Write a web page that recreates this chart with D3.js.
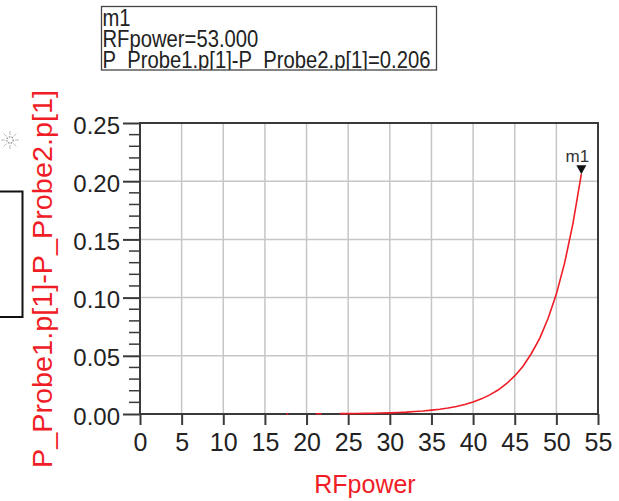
<!DOCTYPE html>
<html>
<head>
<meta charset="utf-8">
<script src="https://cdn.jsdelivr.net/npm/d3@7"></script>
<style>
  body { margin: 0; background: #fff; }
  svg { display: block; font-family: "Liberation Sans", Arial, sans-serif; }
</style>
</head>
<body>
<div id="chart"></div>
<script>
// swept RF input power (dBm) and probe power difference
const rfPower = [17.6, 17.8, null, 21.1, 21.5, 21.8, null,
  24, 25, 26, 27, 28, 29, 30, 31, 32, 33, 34, 35, 36, 37, 38, 39,
  40, 41, 42, 43, 44, 45, 46, 47, 48, 49, 50, 51, 52, 53];
const pDiff = [0.0001, 0.0001, null, 0.0002, 0.0002, 0.0002, null,
  0.0003, 0.0003, 0.0004, 0.0005, 0.0007, 0.0008, 0.0010, 0.0013, 0.0016, 0.0021, 0.0026, 0.0033, 0.0041, 0.0052, 0.0065, 0.0082,
  0.0103, 0.0130, 0.0164, 0.0206, 0.0260, 0.0327, 0.0410, 0.0520, 0.0650, 0.0820, 0.1030, 0.1300, 0.1640, 0.2060];

const xTicks = [0, 5, 10, 15, 20, 25, 30, 35, 40, 45, 50, 55];
const yTicks = [0, 0.05, 0.10, 0.15, 0.20, 0.25];
const yMinorTicks = d3.range(0, 26).map(i => i / 100);

const markerName = "m1";
const markerX = 53.0;
const markerY = 0.206;
const markerLines = ["m1", "RFpower=53.000", "P_Probe1.p[1]-P_Probe2.p[1]=0.206"];

const xLabel = "RFpower";
const yLabel = "P_Probe1.p[1]-P_Probe2.p[1]";

const width = 619, height = 501;
const plot = {left: 140, right: 598, top: 123, bottom: 414};
const red = "#f01c26";
const frame = "#3a3a3a";
const gridCol = "#c6c6c6";

const svg = d3.select("#chart").append("svg")
  .attr("width", width).attr("height", height);

const x = d3.scaleLinear().domain([0, 55]).range([plot.left, plot.right]);
const y = d3.scaleLinear().domain([0, 0.25]).range([plot.bottom, plot.top]);

// grid
svg.append("g").selectAll("line.vg")
  .data(xTicks.slice(1, -1))
  .join("line")
  .attr("x1", d => x(d)).attr("x2", d => x(d))
  .attr("y1", plot.top).attr("y2", plot.bottom)
  .attr("stroke", gridCol).attr("stroke-width", 1.5);

svg.append("g").selectAll("line.hg")
  .data(yTicks.slice(1, -1))
  .join("line")
  .attr("x1", plot.left).attr("x2", plot.right)
  .attr("y1", d => y(d)).attr("y2", d => y(d))
  .attr("stroke", gridCol).attr("stroke-width", 1.5);

// frame
svg.append("rect")
  .attr("x", plot.left).attr("y", plot.top)
  .attr("width", plot.right - plot.left).attr("height", plot.bottom - plot.top)
  .attr("fill", "none").attr("stroke", frame).attr("stroke-width", 2);

// y axis: major + minor ticks
const yAxis = svg.append("g")
  .attr("transform", `translate(${plot.left},0)`)
  .call(d3.axisLeft(y).tickValues(yTicks).tickFormat(d3.format(".2f")).tickSize(17).tickPadding(3));
yAxis.select(".domain").remove();
yAxis.selectAll(".tick line").attr("stroke", frame).attr("stroke-width", 2);
yAxis.selectAll(".tick text")
  .attr("font-size", 24).attr("fill", "#222")
  .attr("font-family", "Liberation Sans, Arial, sans-serif")
  .attr("dy", "0.42em");

svg.append("g").selectAll("line")
  .data(yMinorTicks.filter(d => Math.round(d * 100) % 5 !== 0))
  .join("line")
  .attr("x1", plot.left - 11).attr("x2", plot.left)
  .attr("y1", d => y(d)).attr("y2", d => y(d))
  .attr("stroke", frame).attr("stroke-width", 1.5);

// x axis
const xAxis = svg.append("g")
  .attr("transform", `translate(0,${plot.bottom})`)
  .call(d3.axisBottom(x).tickValues(xTicks).tickSize(11).tickPadding(8));
xAxis.select(".domain").remove();
xAxis.selectAll(".tick line").attr("stroke", frame).attr("stroke-width", 2);
xAxis.selectAll(".tick text")
  .attr("font-size", 25).attr("fill", "#222")
  .attr("font-family", "Liberation Sans, Arial, sans-serif");

// curve
const pts = rfPower.map((p, i) => ({p, v: pDiff[i]}));
const line = d3.line()
  .defined(d => d.p !== null && d.v !== null)
  .x(d => x(d.p)).y(d => y(d.v));
svg.append("path")
  .datum(pts)
  .attr("d", line)
  .attr("fill", "none").attr("stroke", red).attr("stroke-width", 1.6);

// marker
const mx = x(markerX), my = y(markerY);
svg.append("path")
  .attr("d", `M${mx - 5},${my - 9}L${mx + 5},${my - 9}L${mx},${my}Z`)
  .attr("fill", "#111");
svg.append("text")
  .attr("x", mx - 4).attr("y", my - 12)
  .attr("text-anchor", "middle")
  .attr("font-size", 17).attr("fill", "#333")
  .text(markerName);

// axis labels
svg.append("text")
  .attr("x", (plot.left + plot.right) / 2 - 4).attr("y", 493)
  .attr("text-anchor", "middle")
  .attr("font-size", 25).attr("fill", red)
  .text(xLabel);

svg.append("text")
  .attr("transform", "translate(52,279) rotate(-90)")
  .attr("text-anchor", "middle")
  .attr("font-size", 27).attr("fill", red)
  .attr("textLength", 378).attr("lengthAdjust", "spacingAndGlyphs")
  .text(yLabel);

// marker readout box
const box = {x: 101.5, y: 6.5, w: 335, h: 63.5};
svg.append("clipPath").attr("id", "boxclip")
  .append("rect").attr("x", box.x).attr("y", box.y).attr("width", box.w).attr("height", box.h);
const readout = svg.append("g").attr("clip-path", "url(#boxclip)");
readout.append("g")
  .attr("transform", `translate(${box.x + 1},0) scale(0.88,1)`)
  .selectAll("text")
  .data(markerLines)
  .join("text")
  .attr("x", 0)
  .attr("y", (d, i) => 26.5 + i * 21)
  .attr("font-size", 23).attr("fill", "#222")
  .text(d => d);
svg.append("rect")
  .attr("x", box.x).attr("y", box.y).attr("width", box.w).attr("height", box.h)
  .attr("fill", "none").attr("stroke", "#444").attr("stroke-width", 1.3);

// small left-side box (partially off page)
svg.append("rect")
  .attr("x", -10).attr("y", 191.5).attr("width", 32.5).attr("height", 125.5)
  .attr("fill", "none").attr("stroke", "#111").attr("stroke-width", 2);

// little sun-like icon
const sun = svg.append("g").attr("transform", "translate(10,140)");
sun.selectAll("line")
  .data(d3.range(8))
  .join("line")
  .attr("x1", d => 5 * Math.cos(d * Math.PI / 4)).attr("y1", d => 5 * Math.sin(d * Math.PI / 4))
  .attr("x2", d => 9 * Math.cos(d * Math.PI / 4)).attr("y2", d => 9 * Math.sin(d * Math.PI / 4))
  .attr("stroke", "#bbb").attr("stroke-width", 1);
sun.append("circle").attr("r", 3.2)
  .attr("fill", "none").attr("stroke", "#888").attr("stroke-width", 1.2)
  .attr("stroke-dasharray", "1.5,1.2");
</script>
</body>
</html>
